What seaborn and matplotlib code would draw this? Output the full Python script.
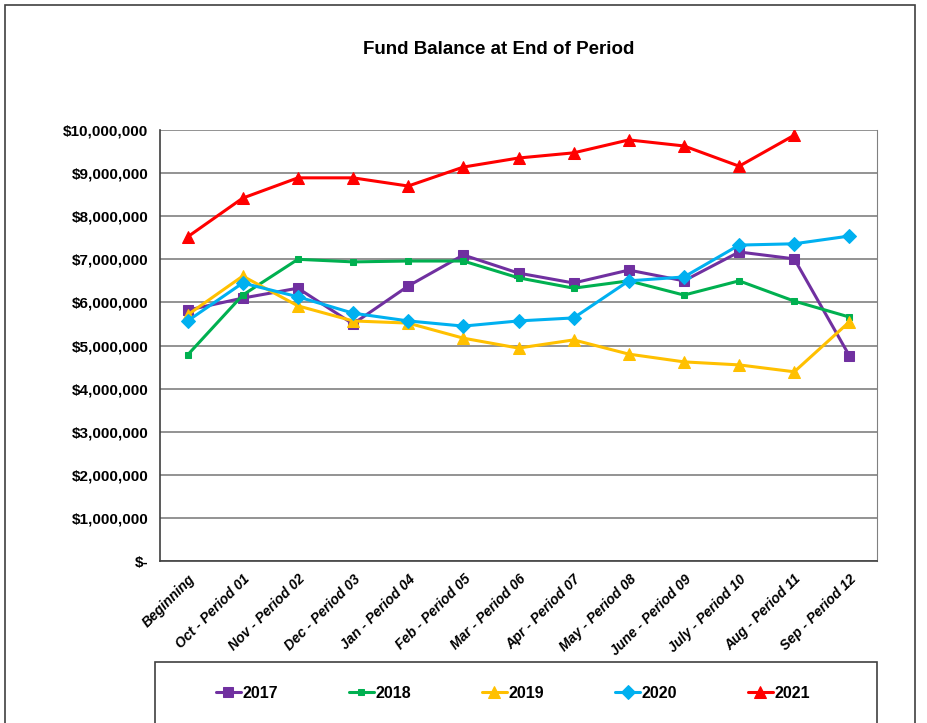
import matplotlib
matplotlib.use('Agg')
import matplotlib.pyplot as plt
from matplotlib.patches import Rectangle
from matplotlib.ticker import FuncFormatter, MultipleLocator
import seaborn as sns
import numpy as np

periods = ['Beginning', 'Oct - Period 01', 'Nov - Period 02', 'Dec - Period 03',
           'Jan - Period 04', 'Feb - Period 05', 'Mar - Period 06', 'Apr - Period 07',
           'May - Period 08', 'June - Period 09', 'July - Period 10', 'Aug - Period 11',
           'Sep - Period 12']

bal_2017 = [5820000, 6100000, 6330000, 5500000, 6380000, 7100000, 6680000,
            6450000, 6750000, 6500000, 7170000, 7010000, 4760000]
bal_2018 = [4780000, 6170000, 7000000, 6940000, 6960000, 6960000, 6570000,
            6330000, 6500000, 6170000, 6500000, 6030000, 5660000]
bal_2019 = [5710000, 6610000, 5920000, 5570000, 5520000, 5170000, 4940000,
            5130000, 4800000, 4620000, 4550000, 4390000, 5550000]
bal_2020 = [5570000, 6450000, 6130000, 5750000, 5570000, 5450000, 5570000,
            5640000, 6500000, 6590000, 7330000, 7360000, 7540000]
bal_2021 = [7520000, 8420000, 8890000, 8890000, 8700000, 9140000, 9350000,
            9470000, 9770000, 9630000, 9160000, 9880000, np.nan]

series = [
    ('2017', bal_2017, '#7030A0', 's', 7),
    ('2018', bal_2018, '#00B050', 's', 4),
    ('2019', bal_2019, '#FFC000', '^', 8),
    ('2020', bal_2020, '#00B0F0', 'D', 7),
    ('2021', bal_2021, '#FF0000', '^', 8),
]

sns.set_style('white')
plt.rcParams['font.family'] = ['Liberation Sans', 'DejaVu Sans']
plt.rcParams['text.color'] = 'black'
plt.rcParams['xtick.color'] = 'black'
plt.rcParams['ytick.color'] = 'black'

fig = plt.figure(figsize=(9.28, 7.23), dpi=100)
ax = fig.add_axes([160 / 928, 1 - 561 / 723, (877 - 160) / 928, (561 - 130) / 723])

x = np.arange(len(periods))
for name, vals, color, mk, ms in series:
    sns.lineplot(x=x, y=vals, ax=ax, color=color, marker=mk, markersize=ms,
                 markeredgecolor=color, linewidth=2.2, label=name)

ax.set_xlim(-0.5, len(periods) - 0.5)
ax.set_ylim(0, 10000000)
ax.yaxis.set_major_locator(MultipleLocator(1000000))
ax.yaxis.set_major_formatter(FuncFormatter(lambda v, p: '$-' if v == 0 else f'${v:,.0f}'))
ax.grid(axis='y', color='#808080', linewidth=1.2)
ax.set_axisbelow(True)

ax.set_xticks(x)
ax.set_xticklabels(periods, rotation=45, ha='right', rotation_mode='anchor',
                   fontsize=10, fontweight='bold', fontstyle='italic')
ax.set_xticks(np.arange(-0.5, len(periods)), minor=True)
ax.tick_params(axis='x', which='major', length=0, pad=8)
ax.tick_params(axis='x', which='minor', length=6, direction='inout', color='#404040')
ax.tick_params(axis='y', length=5, direction='out', color='#404040', labelsize=11)
for lab in ax.get_yticklabels():
    lab.set_fontweight('bold')

ax.spines['top'].set_visible(False)
ax.spines['right'].set_color('#808080')
ax.spines['left'].set_color('#404040')
ax.spines['bottom'].set_color('#404040')
ax.spines['left'].set_linewidth(1.2)
ax.spines['bottom'].set_linewidth(1.2)
ax.set_xlabel('')
ax.set_ylabel('')

fig.text(499 / 928, 1 - 50 / 723, 'Fund Balance at End of Period', ha='center', va='center',
         fontsize=13.5, fontweight='bold', color='black')

handles, labels = ax.get_legend_handles_labels()
ax.get_legend().remove()
fig.legend(handles, labels, loc='center', bbox_to_anchor=(513 / 928, 1 - 693 / 723),
           ncol=5, frameon=False, prop={'weight': 'bold', 'size': 11.5},
           handlelength=1.6, handletextpad=0.1, columnspacing=4.4)

fig.patches.append(Rectangle((155 / 928, -0.1), (877 - 155) / 928, 0.1 + 1 - 662 / 723,
                             transform=fig.transFigure, fill=False, edgecolor='#404040',
                             linewidth=1.2))
fig.patches.append(Rectangle((5 / 928, -0.1), (915 - 5) / 928, 0.1 + 1 - 5 / 723,
                             transform=fig.transFigure, fill=False, edgecolor='#404040',
                             linewidth=1.2))

fig.savefig('out.png', dpi=100)
